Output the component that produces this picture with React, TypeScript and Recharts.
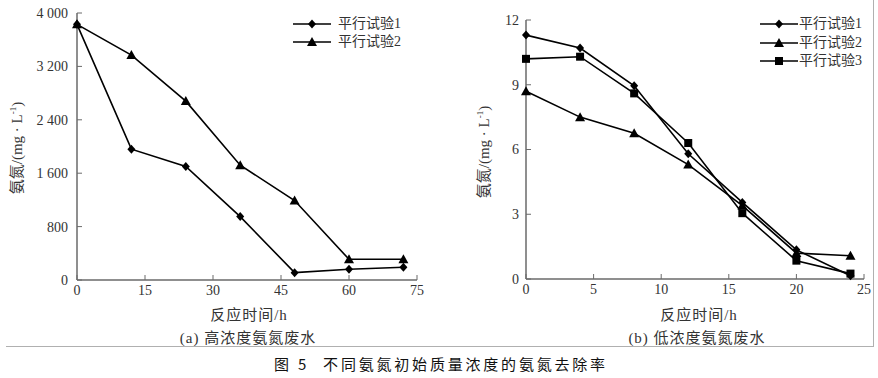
import { LineChart, Line, XAxis, YAxis, Legend } from 'recharts'

// (a) high-concentration wastewater
const hoursA = [0, 12, 24, 36, 48, 60, 72]
const trialA1 = [3830, 1960, 1700, 950, 110, 160, 190]
const trialA2 = [3830, 3370, 2680, 1720, 1190, 310, 310]
const ticksAX = [0, 15, 30, 45, 60, 75]
const ticksAY = [0, 800, 1600, 2400, 3200, 4000]

// (b) low-concentration wastewater
const hoursB = [0, 4, 8, 12, 16, 20, 24]
const trialB1 = [11.3, 10.7, 8.95, 5.8, 3.55, 1.35, 0.15]
const trialB2 = [8.7, 7.5, 6.75, 5.3, 3.4, 1.2, 1.08]
const trialB3 = [10.2, 10.3, 8.6, 6.3, 3.05, 0.85, 0.25]
const ticksBX = [0, 5, 10, 15, 20, 25]
const ticksBY = [0, 3, 6, 9, 12]

const seriesNames = ['平行试验1', '平行试验2', '平行试验3']
const shapes = ['diamond', 'triangle', 'square']

const serif = '"Liberation Serif", "Noto Sans CJK SC", serif'
const textColor = '#333'
const axisColor = '#6a6a6a'

const dataA = hoursA.map((h, i) => ({ h, t1: trialA1[i], t2: trialA2[i] }))
const dataB = hoursB.map((h, i) => ({ h, t1: trialB1[i], t2: trialB2[i], t3: trialB3[i] }))

function fmtThousands(v: number) {
  if (v < 1000) return String(v)
  return `${Math.floor(v / 1000)} ${String(v % 1000).padStart(3, '0')}`
}

function Marker({ shape, cx, cy }: { shape: string; cx: number; cy: number }) {
  if (shape === 'diamond') {
    return <polygon points={`${cx},${cy - 4.5} ${cx + 4},${cy} ${cx},${cy + 4.5} ${cx - 4},${cy}`} fill="#000" />
  }
  if (shape === 'triangle') {
    return <polygon points={`${cx},${cy - 5} ${cx + 5},${cy + 4} ${cx - 5},${cy + 4}`} fill="#000" />
  }
  return <rect x={cx - 4} y={cy - 4} width={8} height={8} fill="#000" />
}

function dotFor(shape: string) {
  // eslint-disable-next-line @typescript-eslint/no-explicit-any
  return (p: any) => <Marker key={`${shape}-${p.index}`} shape={shape} cx={p.cx} cy={p.cy} />
}

function LegendBox({ count, gap, rowH }: { count: number; gap: number; rowH: number }) {
  return (
    <div style={{ fontFamily: serif, fontSize: 14, color: textColor, lineHeight: `${rowH}px` }}>
      {seriesNames.slice(0, count).map((name, i) => (
        <div key={name} style={{ display: 'flex', alignItems: 'center', height: rowH }}>
          <svg width={38} height={12} style={{ marginRight: gap }}>
            <line x1={0} y1={6} x2={38} y2={6} stroke="#000" strokeWidth={1.6} />
            <Marker shape={shapes[i]} cx={19} cy={6} />
          </svg>
          <span>{name}</span>
        </div>
      ))}
    </div>
  )
}

const tickStyle = { fill: textColor, fontSize: 14, fontFamily: serif }
const axisLine = { stroke: axisColor, strokeWidth: 1.5 }
const tickLine = { stroke: axisColor, strokeWidth: 1 }

function YTitle({ x, y }: { x: number; y: number }) {
  return (
    <div
      style={{
        position: 'absolute', left: x, top: y, transform: 'translate(-50%, -50%) rotate(-90deg)',
        whiteSpace: 'nowrap', fontFamily: serif, fontSize: 15, color: textColor,
      }}
    >
      氨氮/(mg · L<sup style={{ fontSize: 9 }}>-1</sup>)
    </div>
  )
}

function SubTitle({ x, y, text }: { x: number; y: number; text: string }) {
  return (
    <div
      style={{
        position: 'absolute', left: x, top: y, transform: 'translate(-50%, -50%)',
        whiteSpace: 'nowrap', fontFamily: serif, fontSize: 15, letterSpacing: 1, color: textColor,
      }}
    >
      {text}
    </div>
  )
}

export default function App() {
  return (
    <div style={{ position: 'absolute', left: 0, top: 0, width: 878, height: 378, background: '#fff', overflow: 'hidden' }}>
      <div style={{ position: 'absolute', left: 0, top: 0 }}>
        <LineChart width={440} height={300} data={dataA} margin={{ top: 13, right: 23, bottom: 0, left: 0 }}>
          <XAxis
            type="number" dataKey="h" domain={[0, 75]} ticks={ticksAX} interval={0} height={20}
            tickSize={-5} tickMargin={10} tick={tickStyle} axisLine={axisLine} tickLine={tickLine}
          />
          <YAxis
            type="number" domain={[0, 4000]} ticks={ticksAY} interval={0} width={77}
            tickSize={-5} tickMargin={14} tick={tickStyle} axisLine={axisLine} tickLine={tickLine}
            tickFormatter={fmtThousands}
          />
          <Legend
            layout="vertical" align="center" verticalAlign="middle"
            wrapperStyle={{ left: 293, top: 15, width: 'auto' }}
            content={() => <LegendBox count={2} gap={7} rowH={18} />}
          />
          <Line dataKey="t1" type="linear" stroke="#000" strokeWidth={1.6} dot={dotFor('diamond')} isAnimationActive={false} />
          <Line dataKey="t2" type="linear" stroke="#000" strokeWidth={1.6} dot={dotFor('triangle')} isAnimationActive={false} />
        </LineChart>
      </div>
      <div style={{ position: 'absolute', left: 440, top: 0 }}>
        <LineChart width={438} height={300} data={dataB} margin={{ top: 20, right: 14, bottom: 0, left: 0 }}>
          <XAxis
            type="number" dataKey="h" domain={[0, 25]} ticks={ticksBX} interval={0} height={21}
            tickSize={-5} tickMargin={10} tick={tickStyle} axisLine={axisLine} tickLine={tickLine}
          />
          <YAxis
            type="number" domain={[0, 12]} ticks={ticksBY} interval={0} width={86}
            tickSize={-5} tickMargin={12} tick={tickStyle} axisLine={axisLine} tickLine={tickLine}
          />
          <Legend
            layout="vertical" align="center" verticalAlign="middle"
            wrapperStyle={{ left: 320, top: 15, width: 'auto' }}
            content={() => <LegendBox count={3} gap={1} rowH={18.5} />}
          />
          <Line dataKey="t1" type="linear" stroke="#000" strokeWidth={1.6} dot={dotFor('diamond')} isAnimationActive={false} />
          <Line dataKey="t2" type="linear" stroke="#000" strokeWidth={1.6} dot={dotFor('triangle')} isAnimationActive={false} />
          <Line dataKey="t3" type="linear" stroke="#000" strokeWidth={1.6} dot={dotFor('square')} isAnimationActive={false} />
        </LineChart>
      </div>

      <YTitle x={15} y={148} />
      <YTitle x={482} y={152} />
      <SubTitle x={249} y={313} text="反应时间/h" />
      <SubTitle x={248} y={336} text="(a) 高浓度氨氮废水" />
      <SubTitle x={699} y={313} text="反应时间/h" />
      <SubTitle x={697} y={336} text="(b) 低浓度氨氮废水" />

      {/* figure frame: right and bottom rules */}
      <div style={{ position: 'absolute', left: 6, top: 346, width: 868, height: 1, background: '#b0b0b0' }} />
      <div style={{ position: 'absolute', left: 873, top: 0, width: 1, height: 347, background: '#b0b0b0' }} />

      <div
        style={{
          position: 'absolute', left: 274, top: 363, transform: 'translateY(-50%)', whiteSpace: 'nowrap',
          fontFamily: '"Noto Sans CJK SC", sans-serif', fontSize: 15, fontWeight: 400, letterSpacing: 2.8, color: '#111',
        }}
      >
        图 5<span style={{ display: 'inline-block', width: 14 }} />不同氨氮初始质量浓度的氨氮去除率
      </div>
    </div>
  )
}
